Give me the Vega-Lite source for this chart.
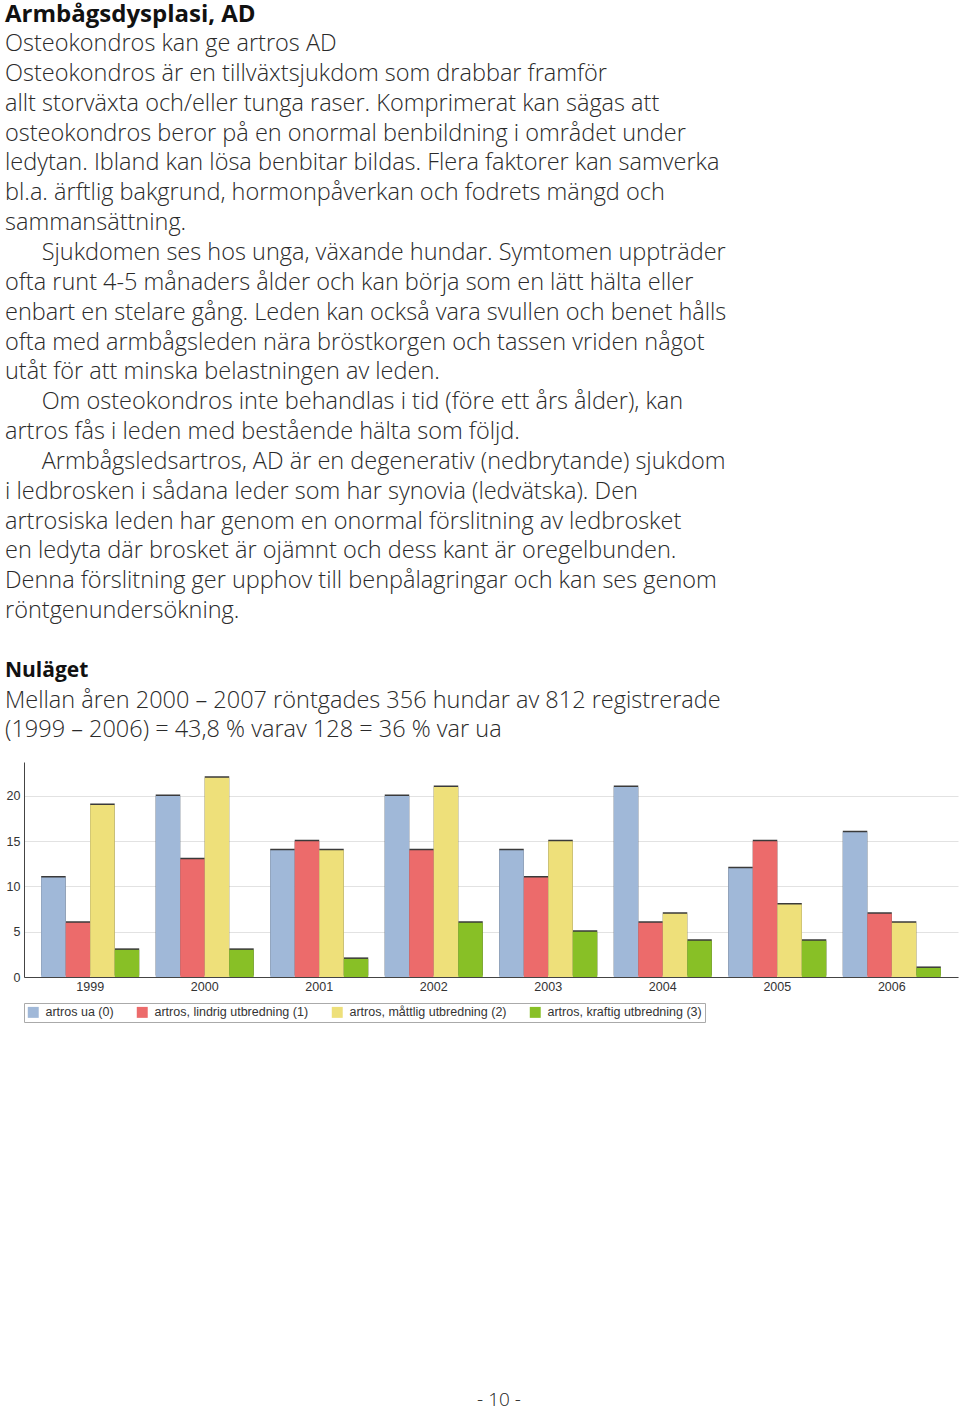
{
  "$schema": "https://vega.github.io/schema/vega-lite/v6.json",
  "background": "white",
  "padding": {"left": 5, "top": 3, "right": 2, "bottom": 0},
  "title": {
    "text": "Armbågsdysplasi, AD",
    "subtitle": [
      "Osteokondros kan ge artros AD",
      "Osteokondros är en tillväxtsjukdom som drabbar framför",
      "allt storväxta och/eller tunga raser. Komprimerat kan sägas att",
      "osteokondros beror på en onormal benbildning i området under",
      "ledytan. Ibland kan lösa benbitar bildas. Flera faktorer kan samverka",
      "bl.a. ärftlig bakgrund, hormonpåverkan och fodrets mängd och",
      "sammansättning.",
      "\u200b\u00a0\u00a0\u00a0\u00a0\u00a0\u00a0Sjukdomen ses hos unga, växande hundar. Symtomen uppträder",
      "ofta runt 4-5 månaders ålder och kan börja som en lätt hälta eller",
      "enbart en stelare gång. Leden kan också vara svullen och benet hålls",
      "ofta med armbågsleden nära bröstkorgen och tassen vriden något",
      "utåt för att minska belastningen av leden.",
      "\u200b\u00a0\u00a0\u00a0\u00a0\u00a0\u00a0Om osteokondros inte behandlas i tid (före ett års ålder), kan",
      "artros fås i leden med bestående hälta som följd.",
      "\u200b\u00a0\u00a0\u00a0\u00a0\u00a0\u00a0Armbågsledsartros, AD är en degenerativ (nedbrytande) sjukdom",
      "i ledbrosken i sådana leder som har synovia (ledvätska). Den",
      "artrosiska leden har genom en onormal förslitning av ledbrosket",
      "en ledyta där brosket är ojämnt och dess kant är oregelbunden.",
      "Denna förslitning ger upphov till benpålagringar och kan ses genom",
      "röntgenundersökning."
    ],
    "anchor": "start",
    "frame": "bounds",
    "font": "Open Sans",
    "fontSize": 24,
    "fontWeight": "bold",
    "color": "#111111",
    "subtitleFont": "Open Sans",
    "subtitleFontSize": 23.5,
    "subtitleFontWeight": 300,
    "subtitleColor": "#2a2a2a",
    "subtitleLineHeight": 29.85,
    "subtitlePadding": 5,
    "offset": 37
  },
  "spacing": 368,
  "resolve": {"legend": {"color": "independent"}},
  "vconcat": [
    {
      "width": 934,
      "height": 215,
      "title": {
        "text": "Nuläget",
        "subtitle": [
          "Mellan åren 2000 – 2007 röntgades 356 hundar av 812 registrerade",
          "(1999 – 2006) = 43,8 % varav 128 = 36 % var ua"
        ],
        "anchor": "start",
        "frame": "bounds",
        "font": "Open Sans",
        "fontSize": 21,
        "fontWeight": "bold",
        "color": "#111111",
        "subtitleFont": "Open Sans",
        "subtitleFontSize": 23.5,
        "subtitleFontWeight": 300,
        "subtitleColor": "#2a2a2a",
        "subtitleLineHeight": 29.85,
        "subtitlePadding": 8,
        "offset": 20
      },
      "data": {
        "values": [
          {"year": "1999", "serie": "artros ua (0)", "value": 11},
          {"year": "1999", "serie": "artros, lindrig utbredning (1)", "value": 6},
          {"year": "1999", "serie": "artros, måttlig utbredning (2)", "value": 19},
          {"year": "1999", "serie": "artros, kraftig utbredning (3)", "value": 3},
          {"year": "2000", "serie": "artros ua (0)", "value": 20},
          {"year": "2000", "serie": "artros, lindrig utbredning (1)", "value": 13},
          {"year": "2000", "serie": "artros, måttlig utbredning (2)", "value": 22},
          {"year": "2000", "serie": "artros, kraftig utbredning (3)", "value": 3},
          {"year": "2001", "serie": "artros ua (0)", "value": 14},
          {"year": "2001", "serie": "artros, lindrig utbredning (1)", "value": 15},
          {"year": "2001", "serie": "artros, måttlig utbredning (2)", "value": 14},
          {"year": "2001", "serie": "artros, kraftig utbredning (3)", "value": 2},
          {"year": "2002", "serie": "artros ua (0)", "value": 20},
          {"year": "2002", "serie": "artros, lindrig utbredning (1)", "value": 14},
          {"year": "2002", "serie": "artros, måttlig utbredning (2)", "value": 21},
          {"year": "2002", "serie": "artros, kraftig utbredning (3)", "value": 6},
          {"year": "2003", "serie": "artros ua (0)", "value": 14},
          {"year": "2003", "serie": "artros, lindrig utbredning (1)", "value": 11},
          {"year": "2003", "serie": "artros, måttlig utbredning (2)", "value": 15},
          {"year": "2003", "serie": "artros, kraftig utbredning (3)", "value": 5},
          {"year": "2004", "serie": "artros ua (0)", "value": 21},
          {"year": "2004", "serie": "artros, lindrig utbredning (1)", "value": 6},
          {"year": "2004", "serie": "artros, måttlig utbredning (2)", "value": 7},
          {"year": "2004", "serie": "artros, kraftig utbredning (3)", "value": 4},
          {"year": "2005", "serie": "artros ua (0)", "value": 12},
          {"year": "2005", "serie": "artros, lindrig utbredning (1)", "value": 15},
          {"year": "2005", "serie": "artros, måttlig utbredning (2)", "value": 8},
          {"year": "2005", "serie": "artros, kraftig utbredning (3)", "value": 4},
          {"year": "2006", "serie": "artros ua (0)", "value": 16},
          {"year": "2006", "serie": "artros, lindrig utbredning (1)", "value": 7},
          {"year": "2006", "serie": "artros, måttlig utbredning (2)", "value": 6},
          {"year": "2006", "serie": "artros, kraftig utbredning (3)", "value": 1}
        ]
      },
      "encoding": {
        "x": {
          "field": "year",
          "type": "nominal",
          "scale": {"paddingInner": 0.144, "paddingOuter": 0.15},
          "axis": {
            "title": null,
            "labelAngle": 0,
            "ticks": false,
            "domainColor": "#444444",
            "labelFont": "Liberation Sans",
            "labelFontSize": 12.5,
            "labelColor": "#333333",
            "labelPadding": 3,
            "grid": false
          }
        },
        "xOffset": {
          "field": "serie",
          "type": "nominal",
          "sort": ["artros ua (0)", "artros, lindrig utbredning (1)", "artros, måttlig utbredning (2)", "artros, kraftig utbredning (3)"]
        },
        "y": {
          "field": "value",
          "type": "quantitative",
          "scale": {"domain": [0, 23.75], "nice": false},
          "axis": {
            "title": null,
            "values": [0, 5, 10, 15, 20],
            "ticks": false,
            "gridColor": "#e2e2e2",
            "domainColor": "#444444",
            "labelFont": "Liberation Sans",
            "labelFontSize": 12.5,
            "labelColor": "#333333",
            "labelPadding": 4,
            "minExtent": 19,
            "maxExtent": 19
          }
        }
      },
      "layer": [
        {
          "mark": {"type": "bar", "color": "#3a3a3a", "xOffset": 1.5, "yOffset": -1.5}
        },
        {
          "mark": {"type": "bar"},
          "encoding": {
            "color": {
              "field": "serie",
              "type": "nominal",
              "sort": ["artros ua (0)", "artros, lindrig utbredning (1)", "artros, måttlig utbredning (2)", "artros, kraftig utbredning (3)"],
              "scale": {
                "domain": ["artros ua (0)", "artros, lindrig utbredning (1)", "artros, måttlig utbredning (2)", "artros, kraftig utbredning (3)"],
                "range": ["#a0b8d8", "#ec6b6b", "#eee07a", "#88c026"]
              },
              "legend": {
                "orient": "bottom",
                "direction": "horizontal",
                "title": null,
                "symbolType": "square",
                "symbolSize": 120,
                "symbolStrokeWidth": 0,
                "symbolOpacity": 1,
                "labelFont": "Liberation Sans",
                "labelFontSize": 12.5,
                "labelColor": "#333333",
                "columnPadding": 22,
                "strokeColor": "#aaaaaa",
                "padding": 3,
                "offset": 10,
                "labelOffset": 6
              }
            }
          }
        }
      ]
    },
    {
      "width": 950,
      "height": 14,
      "data": {"values": [{"page": "- 10 -"}]},
      "mark": {"type": "text", "font": "Open Sans", "fontSize": 19, "fontWeight": 300, "color": "#222222"},
      "encoding": {"text": {"field": "page", "type": "nominal"}}
    }
  ],
  "config": {"view": {"stroke": null}}
}
